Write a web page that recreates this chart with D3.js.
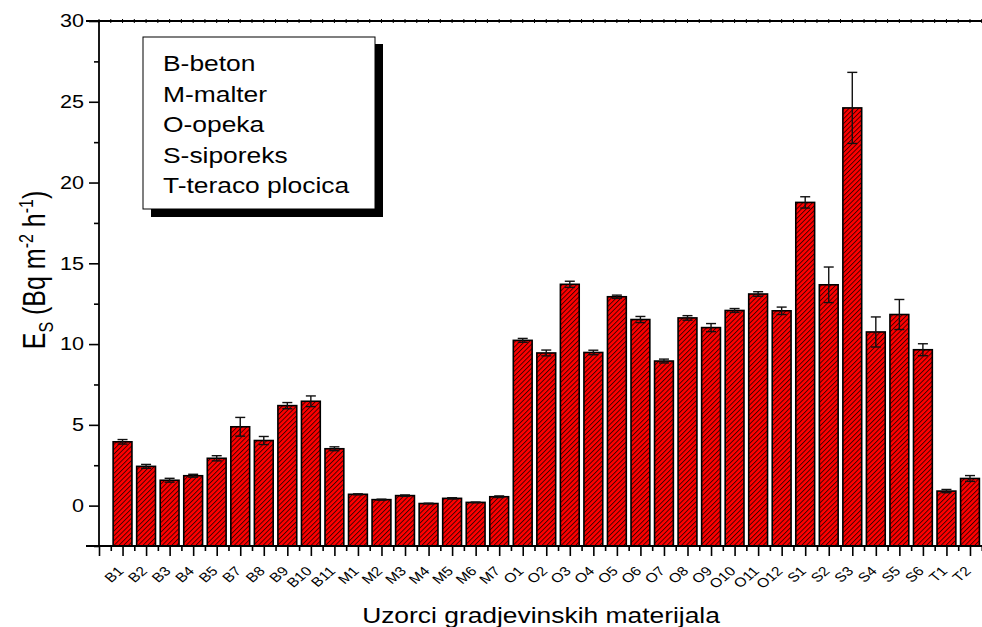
<!DOCTYPE html>
<html>
<head>
<meta charset="utf-8">
<script src="https://cdn.jsdelivr.net/npm/d3@7"></script>
<style>
  html, body { margin: 0; padding: 0; background: #fff; }
  svg { display: block; font-family: "Liberation Sans", Arial, sans-serif; }
</style>
</head>
<body>
<svg id="chart" width="982" height="627"></svg>
<script>
// Sample labels (concrete, mortar, brick, siporex, terrazzo tiles)
const categories = [
  "B1","B2","B3","B4","B5","B7","B8","B9","B10","B11",
  "M1","M2","M3","M4","M5","M6","M7",
  "O1","O2","O3","O4","O5","O6","O7","O8","O9","O10","O11","O12",
  "S1","S2","S3","S4","S5","S6",
  "T1","T2"
];
// Surface exhalation rate E_S (Bq m^-2 h^-1)
const values = [
  3.95, 2.43, 1.57, 1.85, 2.93, 4.88, 4.03, 6.19, 6.46, 3.52,
  0.70, 0.37, 0.62, 0.13, 0.45, 0.20, 0.55,
  10.23, 9.45, 13.70, 9.48, 12.93, 11.52, 8.95, 11.62, 11.02, 12.08, 13.10, 12.06,
  18.77, 13.67, 24.62, 10.75, 11.83, 9.65,
  0.90, 1.68
];
// Measurement uncertainty (one standard deviation)
const errors = [
  0.14, 0.12, 0.12, 0.09, 0.16, 0.58, 0.25, 0.19, 0.33, 0.12,
  0.03, 0.03, 0.04, 0.02, 0.04, 0.02, 0.05,
  0.12, 0.18, 0.19, 0.14, 0.10, 0.19, 0.12, 0.14, 0.25, 0.12, 0.14, 0.23,
  0.35, 1.10, 2.20, 0.93, 0.93, 0.37,
  0.10, 0.18
];
const yTicks = [0, 5, 10, 15, 20, 25, 30];
const legendLines = ["B-beton", "M-malter", "O-opeka", "S-siporeks", "T-teraco plocica"];
const xTitle = "Uzorci gradjevinskih materijala";

const svg = d3.select("#chart");

// Text in this figure is drawn slightly wide
const stretch = 1.2;

// Plot frame
const plotLeft = 99, plotTop = 21, plotBottom = 546;
const step = 23.54;
const maxX = categories.length + 1;
const x = d3.scaleLinear().domain([0, maxX]).range([plotLeft, plotLeft + step * maxX]);
const y = d3.scaleLinear().domain([-2.5, 30]).range([plotBottom, plotTop]);
const barW = step * 0.8;

// Hatch pattern for bars
const defs = svg.append("defs");
const pat = defs.append("pattern")
  .attr("id", "hatch")
  .attr("patternUnits", "userSpaceOnUse")
  .attr("width", 3.4).attr("height", 3.4)
  .attr("patternTransform", "rotate(45)");
pat.append("rect").attr("width", 3.4).attr("height", 3.4).attr("fill", "#ff0000");
pat.append("line").attr("x1", 0.5).attr("y1", 0).attr("x2", 0.5).attr("y2", 3.4)
  .attr("stroke", "#000").attr("stroke-width", 0.7);

// Bars
const data = categories.map((c, i) => ({ c, i: i + 1, v: values[i], e: errors[i] }));
svg.append("g").selectAll("rect").data(data).join("rect")
  .attr("x", d => x(d.i) - barW / 2)
  .attr("y", d => y(d.v))
  .attr("width", barW)
  .attr("height", d => y(-2.5) - y(d.v))
  .attr("fill", "url(#hatch)")
  .attr("stroke", "#000")
  .attr("stroke-width", 1.6);

// Error bars
const eg = svg.append("g").attr("stroke", "#111").attr("stroke-width", 1.4);
data.forEach(d => {
  const g = eg.append("g");
  g.append("line").attr("x1", x(d.i)).attr("x2", x(d.i)).attr("y1", y(d.v - d.e)).attr("y2", y(d.v + d.e));
  [d.v - d.e, d.v + d.e].forEach(v => {
    g.append("line").attr("x1", x(d.i) - 5).attr("x2", x(d.i) + 5).attr("y1", y(v)).attr("y2", y(v));
  });
});

// Left axis: major ticks with labels, minor ticks between
const yAxis = d3.axisLeft(y).tickValues(yTicks).tickSize(10).tickFormat(d3.format("d"));
const yg = svg.append("g").attr("transform", `translate(${plotLeft},0)`).call(yAxis);
yg.select(".domain").remove();
yg.selectAll(".tick line").attr("stroke", "#000").attr("stroke-width", 1.6);
yg.selectAll(".tick text")
  .attr("x", -15 / stretch)
  .attr("transform", `scale(${stretch},1)`)
  .attr("font-size", 18).attr("fill", "#000")
  .attr("font-family", "'Liberation Sans', Arial, sans-serif");
const yMinor = d3.axisLeft(y).tickValues(d3.range(-2.5, 30, 5)).tickSize(5).tickFormat("");
const ymg = svg.append("g").attr("transform", `translate(${plotLeft},0)`).call(yMinor);
ymg.select(".domain").remove();
ymg.selectAll(".tick line").attr("stroke", "#000").attr("stroke-width", 1.6);
svg.append("line").attr("x1", plotLeft).attr("x2", plotLeft).attr("y1", plotTop).attr("y2", plotBottom)
  .attr("stroke", "#000").attr("stroke-width", 1.8);

// Bottom axis: major ticks at categories, minor ticks halfway
const xMajor = d3.axisBottom(x).tickValues(d3.range(0, maxX + 1)).tickSize(10).tickFormat("");
const xmg = svg.append("g").attr("transform", `translate(0,${plotBottom})`).call(xMajor);
xmg.select(".domain").remove();
xmg.selectAll(".tick line").attr("stroke", "#000").attr("stroke-width", 1.6);
const xMinor = d3.axisBottom(x).tickValues(d3.range(0.5, maxX, 1)).tickSize(5).tickFormat("");
const xng = svg.append("g").attr("transform", `translate(0,${plotBottom})`).call(xMinor);
xng.select(".domain").remove();
xng.selectAll(".tick line").attr("stroke", "#000").attr("stroke-width", 1.6);
svg.append("line").attr("x1", 86).attr("x2", 982).attr("y1", plotBottom).attr("y2", plotBottom)
  .attr("stroke", "#000").attr("stroke-width", 1.8);

// Category labels, rotated
svg.append("g").selectAll("text").data(data).join("text")
  .attr("transform", d => `translate(${x(d.i) + 2},${plotBottom + 26}) scale(${stretch},1) rotate(-45)`)
  .attr("text-anchor", "end")
  .attr("font-size", 13)
  .attr("fill", "#000")
  .text(d => d.c);

// Top axis line with small ticks
svg.append("line").attr("x1", 86).attr("x2", 982).attr("y1", plotTop).attr("y2", plotTop)
  .attr("stroke", "#000").attr("stroke-width", 1.8);
svg.append("g").selectAll("line").data(d3.range(0, maxX + 0.01, 0.5)).join("line")
  .attr("x1", d => x(d)).attr("x2", d => x(d))
  .attr("y1", plotTop - 2).attr("y2", plotTop + 2)
  .attr("stroke", "#000").attr("stroke-width", 1);

// Axis titles
svg.append("text")
  .attr("transform", `translate(541,623) scale(${stretch},1)`)
  .attr("text-anchor", "middle")
  .attr("font-size", 22)
  .attr("fill", "#000")
  .text(xTitle);

const yt = svg.append("text")
  .attr("transform", `translate(45,270) scale(1.25,1) rotate(-90)`)
  .attr("text-anchor", "middle")
  .attr("font-size", 25)
  .attr("fill", "#000");
yt.append("tspan").text("E");
yt.append("tspan").attr("font-size", 16).attr("dy", 6).text("S");
yt.append("tspan").attr("dy", -6).text(" (Bq m");
yt.append("tspan").attr("font-size", 16).attr("dy", -10).text("-2");
yt.append("tspan").attr("dy", 10).text(" h");
yt.append("tspan").attr("font-size", 16).attr("dy", -10).text("-1");
yt.append("tspan").attr("dy", 10).text(")");

// Legend box with drop shadow
const lg = svg.append("g");
lg.append("rect").attr("x", 151).attr("y", 44).attr("width", 232).attr("height", 173).attr("fill", "#000");
lg.append("rect").attr("x", 143).attr("y", 37).attr("width", 232).attr("height", 172)
  .attr("fill", "#fff").attr("stroke", "#000").attr("stroke-width", 1);
lg.selectAll("text").data(legendLines).join("text")
  .attr("transform", (d, i) => `translate(163,${71 + i * 30.5}) scale(${stretch},1)`)
  .attr("font-size", 22)
  .attr("fill", "#000")
  .text(d => d);
</script>
</body>
</html>
